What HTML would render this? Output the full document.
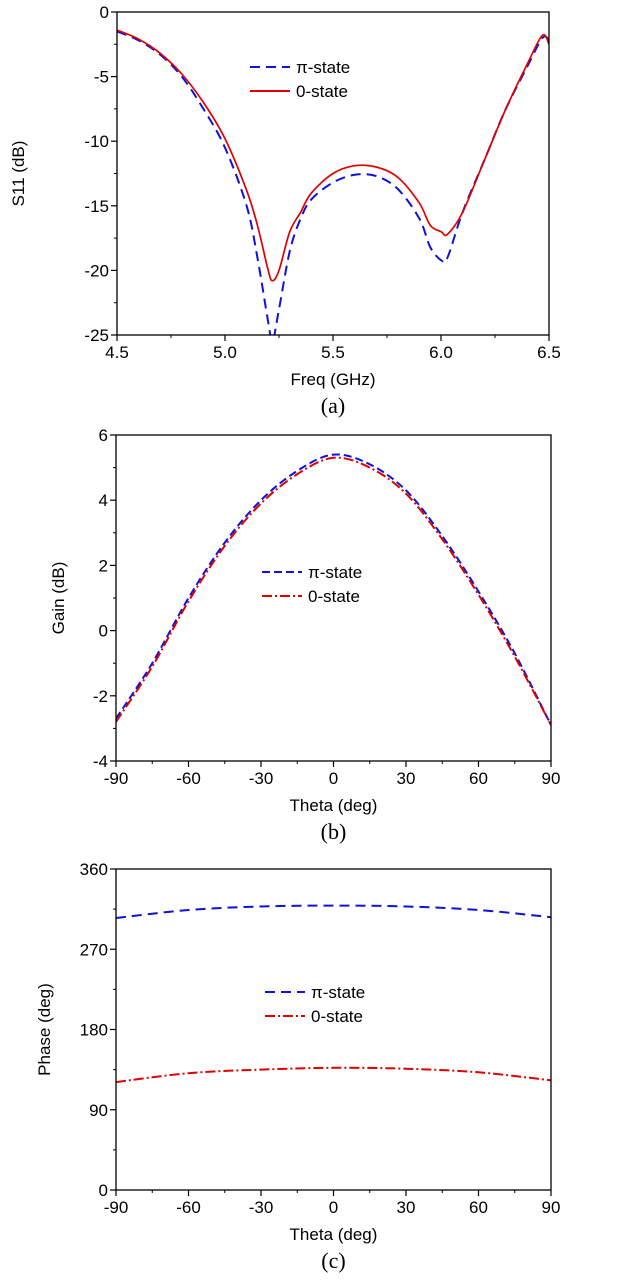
<!DOCTYPE html>
<html><head><meta charset="utf-8"><style>
body{margin:0;background:#fff;}
svg text{font-family:"Liberation Sans",Arial,sans-serif;fill:#000;}
</style></head><body>
<svg id="s" width="640" height="1280"></svg>
<script>
const s11Freq=[4.5,4.6,4.7,4.8,4.9,5.0,5.1,5.15,5.2,5.22,5.25,5.3,5.35,5.4,5.5,5.6,5.7,5.8,5.9,5.95,6.0,6.03,6.1,6.2,6.3,6.4,6.47,6.5];
const s11Pi=[-1.5,-2.2,-3.3,-5,-7.5,-10.5,-15,-19,-24,-25.5,-23,-18.5,-16,-14.5,-13.2,-12.6,-12.7,-13.7,-16,-18.2,-19.2,-19,-15.5,-11.5,-7.5,-4.2,-2,-2.2];
const s11Zero=[-1.4,-2.1,-3.2,-4.8,-7,-9.8,-13.8,-16.5,-20,-20.8,-20,-17,-15.5,-14,-12.5,-11.9,-12,-12.8,-14.8,-16.5,-17,-17.2,-15.5,-11.5,-7.5,-4,-1.8,-2.5];
const theta=[-90,-75,-60,-45,-30,-15,0,15,30,45,60,75,90];
const gainPi=[-2.7,-1,1,2.7,4,4.9,5.4,5.1,4.3,2.9,1.2,-0.7,-2.9];
const gainZero=[-2.8,-1.1,0.9,2.6,3.9,4.8,5.3,5.0,4.2,2.8,1.1,-0.8,-2.9];
const phaseTheta=[-90,-60,-30,0,30,60,90];
const phasePi=[305,314,318,319,318,314,306];
const phaseZero=[121,131,135,137,136,132,123];
const s11XTicks=[4.5,5.0,5.5,6.0,6.5];
const s11YTicks=[0,-5,-10,-15,-20,-25];
const gainYTicks=[6,4,2,0,-2,-4];
const thetaTicks=[-90,-60,-30,0,30,60,90];
const phaseYTicks=[360,270,180,90,0];

const svg=document.getElementById('s');
const NS='http://www.w3.org/2000/svg';
function mk(t,a,p){const e=document.createElementNS(NS,t);for(const k in a)e.setAttribute(k,a[k]);(p||svg).appendChild(e);return e;}
function txt(x,y,str,name,extra){const e=mk('text',Object.assign({x:x,y:y,'font-size':17,'text-anchor':'middle'},extra||{}));e.textContent=str;

return e;}
function smooth(P){let d='M'+P[0][0].toFixed(1)+','+P[0][1].toFixed(1);
 for(let i=0;i<P.length-1;i++){const p0=P[i-1]||P[i],p1=P[i],p2=P[i+1],p3=P[i+2]||p2;
  const c1=[p1[0]+(p2[0]-p0[0])/6,p1[1]+(p2[1]-p0[1])/6],c2=[p2[0]-(p3[0]-p1[0])/6,p2[1]-(p3[1]-p1[1])/6];
  d+='C'+c1.map(v=>v.toFixed(1))+' '+c2.map(v=>v.toFixed(1))+' '+p2.map(v=>v.toFixed(1));}
 return d;}

function chart(o){
 const g=mk('g',{});
 
 
 const L=o.L,R=o.R,T=o.T,B=o.B;
 const sx=v=>L+(v-o.xmin)/(o.xmax-o.xmin)*(R-L);
 const sy=v=>B-(v-o.ymin)/(o.ymax-o.ymin)*(B-T);
 const cp='cp'+o.name;
 const c=mk('clipPath',{id:cp},g);mk('rect',{x:L,y:T,width:R-L,height:B-T},c);
 o.series.forEach(se=>{
  const P=se.x.map((v,i)=>[sx(v),sy(se.y[i])]);
  const p=mk('path',{d:smooth(P),fill:'none',stroke:se.color,'stroke-width':se.w||2,'stroke-dasharray':se.dash||'','clip-path':'url(#'+cp+')'},g);
  
  
 });
 const f=mk('rect',{x:L,y:T,width:R-L,height:B-T,fill:'none',stroke:'#000','stroke-width':1.3},g);
 
 
 o.xt.forEach((v,i)=>{const x=sx(v);mk('line',{x1:x,y1:B,x2:x,y2:B+6,stroke:'#000','stroke-width':1.2},g);
  if(i<o.xt.length-1){const xm=sx((v+o.xt[i+1])/2);mk('line',{x1:xm,y1:B,x2:xm,y2:B+3,stroke:'#000'},g);}
  txt(x,B+23,o.xl?o.xl(v):String(v),'x-tick-label');});
 o.yt.forEach((v,i)=>{const y=sy(v);mk('line',{x1:L-6,y1:y,x2:L,y2:y,stroke:'#000','stroke-width':1.2},g);
  if(i<o.yt.length-1){const ym=sy((v+o.yt[i+1])/2);mk('line',{x1:L-3,y1:ym,x2:L,y2:ym,stroke:'#000'},g);}
  txt(L-8,y+6,String(v),'y-tick-label',{'text-anchor':'end'});});
 txt((L+R)/2,B+50,o.xtitle,'x-axis-title');
 txt(0,0,o.ytitle,'y-axis-title',{transform:'translate('+o.ytx+','+(T+B)/2+') rotate(-90)'});
 txt((L+R)/2,B+78,o.cap,'caption',{'font-size':22,style:'font-family:"Liberation Serif",serif'});
 o.series.forEach((se,i)=>{const y=o.legY+i*24;
  const l=mk('line',{x1:o.legX,y1:y,x2:o.legX+40,y2:y,stroke:se.color,'stroke-width':2,'stroke-dasharray':se.dash||''},g);
  
  
  txt(o.legX+46,y+6,se.label,'legend-entry',{'text-anchor':'start'});});
}
chart({name:'s11-chart',L:117,R:549,T:12,B:335,xmin:4.5,xmax:6.5,ymin:-25,ymax:0,xt:s11XTicks,yt:s11YTicks,xl:v=>v.toFixed(1),
 xtitle:'Freq (GHz)',ytitle:'S11 (dB)',ytx:24,cap:'(a)',legX:250,legY:67,
 series:[{name:'pi-state-line',x:s11Freq,y:s11Pi,color:'#1010e0',dash:'10,6',label:'π-state'},{name:'zero-state-line',x:s11Freq,y:s11Zero,color:'#e00000',w:1.7,label:'0-state'}]});
chart({name:'gain-chart',L:116,R:551,T:435,B:761,xmin:-90,xmax:90,ymin:-4,ymax:6,xt:thetaTicks,yt:gainYTicks,
 xtitle:'Theta (deg)',ytitle:'Gain (dB)',ytx:64,cap:'(b)',legX:262,legY:572,
 series:[{name:'pi-state-line',x:theta,y:gainPi,color:'#1010e0',dash:'8,4',label:'π-state'},{name:'zero-state-line',x:theta,y:gainZero,color:'#e00000',dash:'10,3,2,3',label:'0-state'}]});
chart({name:'phase-chart',L:116,R:551,T:869,B:1190,xmin:-90,xmax:90,ymin:0,ymax:360,xt:thetaTicks,yt:phaseYTicks,
 xtitle:'Theta (deg)',ytitle:'Phase (deg)',ytx:50,cap:'(c)',legX:265,legY:992,
 series:[{name:'pi-state-line',x:phaseTheta,y:phasePi,color:'#1010e0',dash:'10,6',label:'π-state'},{name:'zero-state-line',x:phaseTheta,y:phaseZero,color:'#e00000',dash:'10,3,2,3',label:'0-state'}]});
</script>
</body></html>
